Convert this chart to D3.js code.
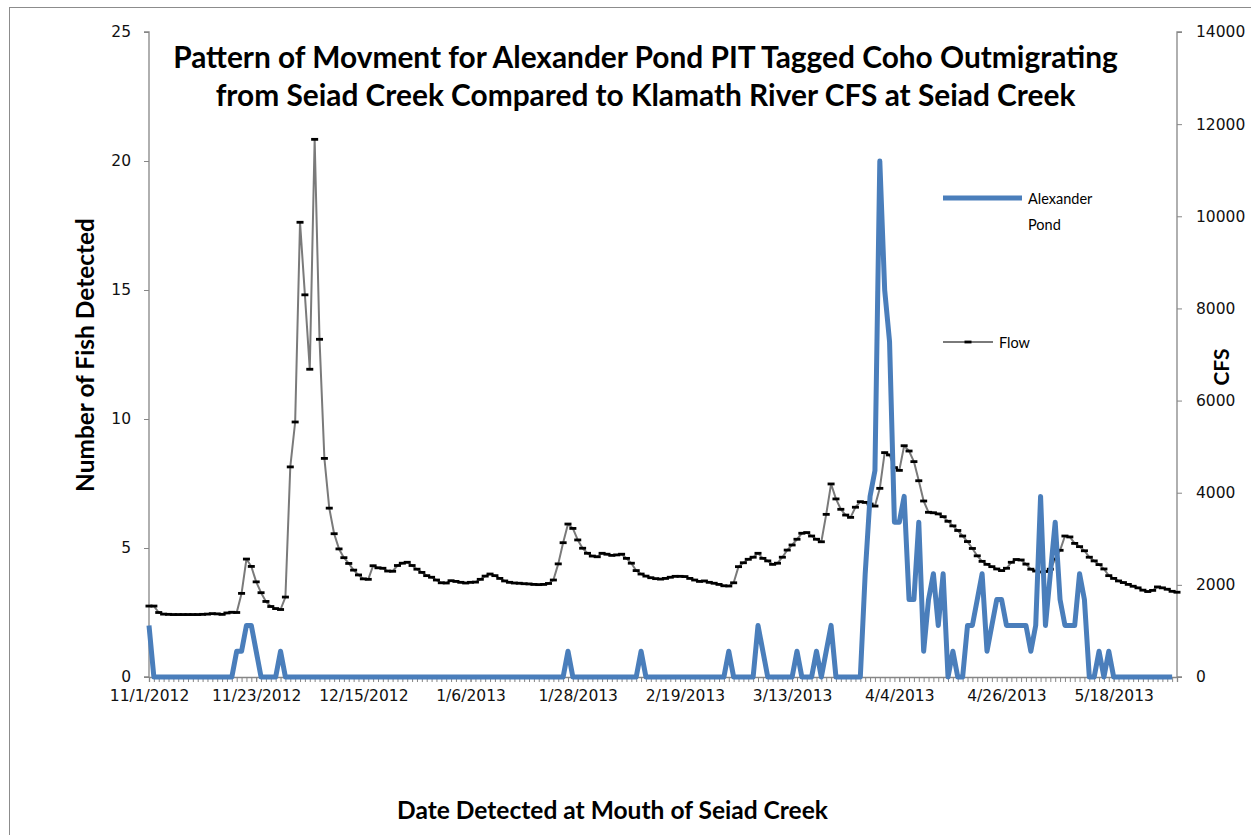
<!DOCTYPE html>
<html><head><meta charset="utf-8">
<script src="https://cdn.jsdelivr.net/npm/d3@7"></script>
<style>body{margin:0;background:#fff;overflow:hidden}</style>
</head><body><svg id="c" width="1251" height="835"></svg>
<script>
// ---------- data ----------
const startDate = "2012-11-01";
const xTickLabels = ["11/1/2012","11/23/2012","12/15/2012","1/6/2013","1/28/2013","2/19/2013","3/13/2013","4/4/2013","4/26/2013","5/18/2013"];
const xTickStepDays = 22;
const fishTicks = [0,5,10,15,20,25];
const cfsTicks = [0,2000,4000,6000,8000,10000,12000,14000];
const seriesNames = ["Alexander Pond","Flow"];

// daily number of Alexander Pond PIT tagged coho detected (from 11/1/2012)
const alexanderPond = [
 2,0,0,0,0,0,0,0,0,0,0,0,0,0,0,0,0,0,1,1,
 2,2,1,0,0,0,0,1,0,0,0,0,0,0,0,0,0,0,0,0,
 0,0,0,0,0,0,0,0,0,0,0,0,0,0,0,0,0,0,0,0,
 0,0,0,0,0,0,0,0,0,0,0,0,0,0,0,0,0,0,0,0,
 0,0,0,0,0,0,1,0,0,0,0,0,0,0,0,0,0,0,0,0,
 0,1,0,0,0,0,0,0,0,0,0,0,0,0,0,0,0,0,0,1,
 0,0,0,0,0,2,1,0,0,0,0,0,0,1,0,0,0,1,0,1,
 2,0,0,0,0,0,0,4,7,8,20,15,13,6,6,7,3,3,6,1,
 3,4,2,4,0,1,0,0,2,2,3,4,1,2,3,3,2,2,2,2,
 2,1,2,7,2,4,6,3,2,2,2,4,3,0,0,1,0,1,0,0,
 0,0,0,0,0,0,0,0,0,0,0
];

// daily Klamath River flow (CFS) at Seiad Creek (from 11/1/2012)
const flowCfs = [
 1540,1540,1400,1365,1360,1355,1355,1355,1355,1355,1355,1360,1365,1375,1370,1360,1390,1405,1400,1815,
 2560,2400,2065,1830,1640,1530,1485,1465,1735,4560,5535,9870,8295,6680,11670,7330,4745,3665,3110,2780,
 2590,2465,2320,2215,2130,2120,2415,2370,2360,2300,2295,2420,2470,2490,2420,2340,2270,2200,2165,2105,
 2045,2040,2090,2075,2055,2040,2055,2060,2120,2190,2235,2200,2140,2085,2055,2040,2035,2025,2020,2010,
 2005,2010,2030,2105,2455,2915,3320,3225,2975,2795,2685,2625,2610,2685,2665,2640,2650,2665,2575,2470,
 2310,2235,2190,2155,2135,2125,2140,2165,2185,2185,2180,2140,2105,2075,2085,2055,2035,2010,1980,1975,
 2045,2395,2480,2555,2600,2685,2575,2520,2445,2470,2600,2755,2865,2990,3120,3135,3060,2990,2935,3530,
 4190,3865,3640,3515,3465,3685,3805,3790,3755,3710,4095,4870,4820,4545,4485,5020,4905,4675,4260,3820,
 3575,3565,3540,3480,3380,3280,3180,3060,2940,2790,2630,2510,2445,2395,2345,2310,2360,2490,2550,2540,
 2450,2340,2300,2280,2290,2340,2560,2750,3060,3040,2900,2830,2740,2600,2520,2440,2345,2200,2140,2085,
 2050,2010,1970,1935,1885,1855,1880,1955,1935,1905,1860,1840
];

// ---------- chart ----------
const svg = d3.select("#c");
const W = 1251, H = 835;
const L = 149, R = 1177, T = 32, B = 677;
const start = new Date(startDate + "T00:00:00Z");
const dayOf = i => d3.utcDay.offset(start, i);
const nDays = flowCfs.length - 1;

const x = d3.scaleUtc().domain([start, dayOf(nDays)]).range([L, R]);
const yL = d3.scaleLinear().domain([0, 25]).range([B, T]);
const yR = d3.scaleLinear().domain([0, 14000]).range([B, T]);

const axisColor = "#868686";
const tickFont = "'DejaVu Sans', Verdana, sans-serif";
const boldFont = "Lato, 'Open Sans', sans-serif";

// outer frame
svg.append("rect").attr("x", 9.5).attr("y", 7.5).attr("width", W).attr("height", H)
  .attr("fill", "none").attr("stroke", "#8c8c8c").attr("stroke-width", 1);

function fitText(sel, width) {
  const node = sel.node();
  const len = node.getComputedTextLength();
  const fs = parseFloat(sel.attr("font-size"));
  sel.attr("font-size", (fs * width / len).toFixed(2));
}

// title
const titleLines = ["Pattern of Movment for Alexander Pond PIT Tagged Coho Outmigrating",
                    "from Seiad Creek Compared to Klamath River CFS at Seiad Creek"];
const t1 = svg.append("text").attr("x", 645.5).attr("y", 68).attr("text-anchor", "middle")
  .attr("font-family", boldFont).attr("font-weight", "bold").attr("font-size", 26).attr("fill", "#000")
  .text(titleLines[0]);
fitText(t1, 945);
const t2 = svg.append("text").attr("x", 645.5).attr("y", 106).attr("text-anchor", "middle")
  .attr("font-family", boldFont).attr("font-weight", "bold").attr("font-size", 26).attr("fill", "#000")
  .text(titleLines[1]);
t2.attr("font-size", t1.attr("font-size"));

// axes
const gL = svg.append("g").attr("transform", `translate(${L},0)`)
  .call(d3.axisLeft(yL).tickValues(fishTicks).tickSize(5).tickPadding(13).tickFormat(d3.format("d")));
const gR = svg.append("g").attr("transform", `translate(${R},0)`)
  .call(d3.axisRight(yR).tickValues(cfsTicks).tickSize(5).tickPadding(14).tickFormat(d3.format("d")));
const dailyTicks = d3.range(0, nDays + 1).map(dayOf);
const gXminor = svg.append("g").attr("transform", `translate(0,${B})`)
  .call(d3.axisBottom(x).tickValues(dailyTicks).tickSize(5).tickFormat(""));
const majorTicks = xTickLabels.map((_, k) => dayOf(k * xTickStepDays));
const gX = svg.append("g").attr("transform", `translate(0,${B})`)
  .call(d3.axisBottom(x).tickValues(majorTicks).tickSize(5).tickPadding(8)
    .tickFormat((d, k) => xTickLabels[k]));

[gL, gR, gXminor, gX].forEach(g => {
  g.selectAll(".domain").attr("stroke", axisColor).attr("stroke-width", 1.3);
  g.selectAll(".tick line").attr("stroke", axisColor).attr("stroke-width", 1);
  g.selectAll("text").attr("font-family", tickFont).attr("font-size", 15.5).attr("fill", "#111");
});
gR.selectAll(".domain").attr("d", `M5,${B}H0V${T}H5`);
gL.selectAll(".domain").attr("d", `M-5,${B}H0V${T}H-5`);
gXminor.selectAll(".domain").remove();

// axis titles
const yt = svg.append("text").attr("transform", "translate(94,355) rotate(-90)")
  .attr("text-anchor", "middle").attr("font-family", boldFont).attr("font-weight", "bold")
  .attr("font-size", 20).text("Number of Fish Detected");
fitText(yt, 274);
const rt = svg.append("text").attr("transform", "translate(1229,367) rotate(-90)")
  .attr("text-anchor", "middle").attr("font-family", boldFont).attr("font-weight", "bold")
  .attr("font-size", 20).text("CFS");
fitText(rt, 37);
const xt = svg.append("text").attr("x", 612.5).attr("y", 819)
  .attr("text-anchor", "middle").attr("font-family", boldFont).attr("font-weight", "bold")
  .attr("font-size", 20).text("Date Detected at Mouth of Seiad Creek");
fitText(xt, 431);

// flow line + markers
const flowPts = flowCfs.map((v, i) => ({d: dayOf(i), v}));
svg.append("path").datum(flowPts)
  .attr("d", d3.line().x(p => x(p.d)).y(p => yR(p.v)))
  .attr("fill", "none").attr("stroke", "#7a7a7a").attr("stroke-width", 2).attr("stroke-linejoin", "round");
svg.append("g").selectAll("rect").data(flowPts).join("rect")
  .attr("x", p => x(p.d) - 3.5).attr("y", p => yR(p.v) - 1.4)
  .attr("width", 7).attr("height", 2.8).attr("fill", "#000");

// alexander pond line
const fishPts = alexanderPond.map((v, i) => ({d: dayOf(i), v}));
svg.append("path").datum(fishPts)
  .attr("d", d3.line().x(p => x(p.d)).y(p => yL(p.v)))
  .attr("fill", "none").attr("stroke", "#4a7ebb").attr("stroke-width", 5).attr("stroke-linejoin", "round");

// legend
const legendFont = "Lato, 'Open Sans', sans-serif";
const lg = svg.append("g");
lg.append("line").attr("x1", 943).attr("x2", 1022).attr("y1", 198).attr("y2", 198)
  .attr("stroke", "#4a7ebb").attr("stroke-width", 5);
lg.append("text").attr("x", 1028).attr("y", 204).attr("font-family", legendFont)
  .attr("font-size", 14.5).text("Alexander");
lg.append("text").attr("x", 1028).attr("y", 230).attr("font-family", legendFont)
  .attr("font-size", 14.5).text("Pond");
lg.append("line").attr("x1", 943).attr("x2", 993).attr("y1", 342).attr("y2", 342)
  .attr("stroke", "#7a7a7a").attr("stroke-width", 2);
lg.append("rect").attr("x", 964.5).attr("y", 340.6).attr("width", 7).attr("height", 2.8).attr("fill", "#000");
lg.append("text").attr("x", 999).attr("y", 348).attr("font-family", legendFont)
  .attr("font-size", 14.5).text("Flow");
</script></body></html>
